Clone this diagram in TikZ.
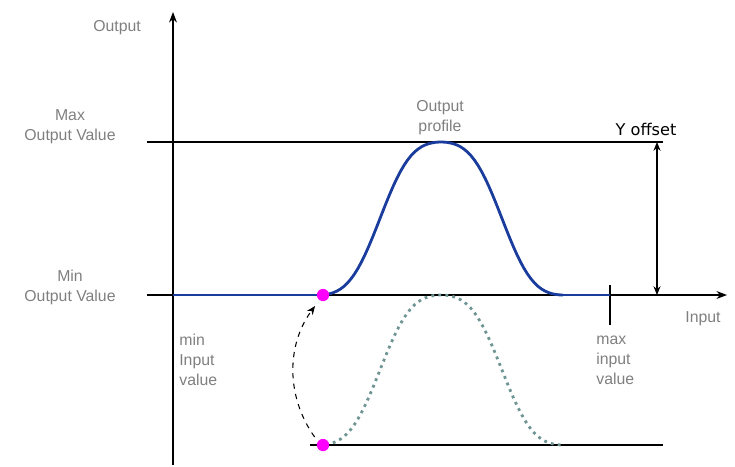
\documentclass[tikz,border=0pt]{standalone}
\usepackage{fontspec}
\setmainfont{Liberation Sans}
\newfontfamily\offsetfont{DejaVu Sans}
\usepackage{xcolor}
\usetikzlibrary{arrows.meta, positioning, calc}
\definecolor{lblgray}{HTML}{7F7F7F}
\definecolor{curveblue}{HTML}{1A3C9C}
\definecolor{dotgray}{HTML}{6E9494}
\definecolor{dotmag}{RGB}{255,0,255}
\tikzset{
  axis/.style      = {line width=0.6pt, -{Stealth[length=6pt,width=4.5pt]}},
  guide/.style     = {line width=0.6pt},
  lbl/.style       = {text=lblgray, font=\fontsize{9}{11.3}\selectfont, align=center, inner sep=0pt},
  lblL/.style      = {lbl, align=left, anchor=west},
  profile/.style   = {curveblue, line width=1.6pt},
  shifted/.style   = {dotgray, line width=1.6pt, dash pattern=on 1.6pt off 2.4pt},
  anchorpt/.style  = {circle, fill=dotmag, inner sep=0pt, minimum size=7pt},
  dasharrow/.style = {line width=0.6pt, dashed, -{Stealth[length=5pt,width=4pt]}},
  darrow/.style    = {line width=0.6pt, {Stealth[length=5pt,width=4pt]}-{Stealth[length=5pt,width=4pt]}},
  declare function = {bellu(\t) = (1-cos(1.4754*(\t-319)))/2;
                      bell(\t)  = 0.4*bellu(\t) + 0.6*(3*bellu(\t)^2 - 2*bellu(\t)^3);},
}

\begin{document}
\begin{tikzpicture}[x=0.02cm, y=-0.02cm]
    \useasboundingbox (0,0) rectangle (735,467);

    %% axes
    \draw[axis]  (173,465) -- (173,12);
    \draw[axis]  (147,295) -- (727,295);
    \draw[guide] (147,142) -- (663,142);
    \draw[guide] (310,445) -- (663,445);
    \draw[guide] (610,285) -- (610,325);

    %% labels
    \node[lbl]  (outlbl) at (117,28)  {Output};
    \node[lbl]  (maxlbl) at (70,127)  {Max\\Output Value};
    \node[lbl]  (minlbl) at (70,287)  {Min\\Output Value};
    \node[lbl]  (inlbl)  at (703,319) {Input};
    \node[lbl]  (proflbl) at (440,118) {Output\\profile};
    \node[lblL] (minin)  at (179,360) {min\\Input\\value};
    \node[lblL] (maxin)  at (596,360) {max\\input\\value};
    \node[font=\offsetfont\fontsize{9.2}{10}\selectfont, inner sep=0pt] (yoff) at (646,129) {Y offset};

    %% shifted profile (dotted)
    \draw[shifted] plot[domain=319:563, samples=70] (\x, {445-150*bell(\x)});

    %% output profile
    \draw[profile] (173,295) -- (319,295);
    \draw[profile] plot[domain=319:563, samples=70] (\x, {295-153*bell(\x)});
    \draw[profile] (563,295) -- (610,295);

    %% anchor points
    \node[anchorpt] (dothi) at (323,295) {};
    \node[anchorpt] (dotlo) at (323,445) {};
    \draw[dasharrow, shorten <=3pt, shorten >=4pt] (dotlo.145) to[bend left=36] (dothi.235);

    %% y offset
    \coordinate (offtop) at (657,142);
    \coordinate (offbot) at (657,295);
    \draw[darrow] (offbot) -- (offtop);

  \end{tikzpicture}
\end{document}
